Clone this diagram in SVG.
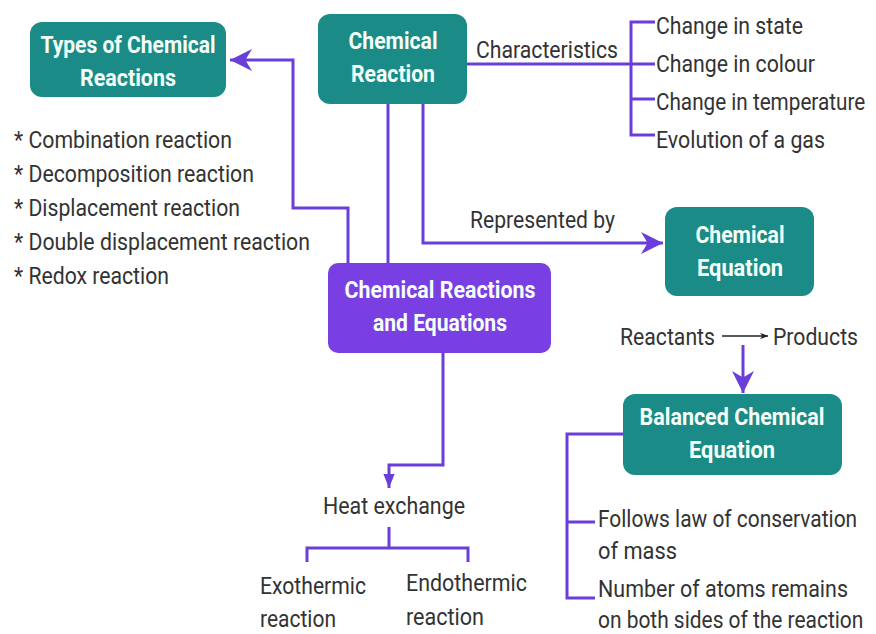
<svg xmlns="http://www.w3.org/2000/svg" width="876" height="634" viewBox="0 0 876 634">
<defs>
<style>
.teal{fill:#1a8b86}
.purp{fill:#7a3fe3}
.bt{font-family:Roboto,"Liberation Sans",sans-serif;font-weight:bold;font-size:24px;fill:#f4fff9;text-anchor:middle}
.t{font-family:Roboto,"Liberation Sans",sans-serif;font-size:23px;fill:#333}
.ln{fill:none;stroke:#6a3ed8;stroke-width:3}
.thin{fill:none;stroke:#222;stroke-width:1.5}
</style>
<marker id="big" viewBox="0 0 10 10" refX="10" refY="5" markerWidth="22" markerHeight="22" orient="auto" markerUnits="userSpaceOnUse">
<path d="M0,0 L10,5 L0,10 L3,5 Z" fill="#6a3ed8"/>
</marker>
<marker id="small" viewBox="0 0 10 10" refX="10" refY="5" markerWidth="14" markerHeight="14" orient="auto" markerUnits="userSpaceOnUse">
<path d="M0,1 L10,5 L0,9 Z" fill="#6a3ed8"/>
</marker>
<marker id="blk" viewBox="0 0 10 10" refX="10" refY="5" markerWidth="8" markerHeight="8" orient="auto" markerUnits="userSpaceOnUse">
<path d="M0,1 L10,5 L0,9 L3,5 Z" fill="#222"/>
</marker>
</defs>
<rect width="876" height="634" fill="#ffffff"/>

<g id="connectors">
<polyline class="ln" points="348,264 348,208 293,208 293,60 230,60" marker-end="url(#big)"/>
<line class="ln" x1="388" y1="104" x2="388" y2="264"/>
<polyline class="ln" points="423,104 423,243 663,243" marker-end="url(#big)"/>
<line class="ln" x1="467" y1="64" x2="631" y2="64"/>
<polyline class="ln" points="655,22 631,22 631,135 655,135"/>
<line class="ln" x1="631" y1="64" x2="655" y2="64"/>
<line class="ln" x1="631" y1="99" x2="655" y2="99"/>
<polyline class="ln" points="443,353 443,465 389,465 389,488" marker-end="url(#small)"/>
<polyline class="ln" points="389,527 389,548"/>
<polyline class="ln" points="307,562 307,548 468,548 468,562"/>
<line class="ln" x1="743" y1="345" x2="743" y2="393" marker-end="url(#big)"/>
<line class="thin" x1="722" y1="336" x2="768" y2="336" marker-end="url(#blk)"/>
<polyline class="ln" points="623,434 567,434 567,598 595,598"/>
<line class="ln" x1="567" y1="522" x2="595" y2="522"/>
</g>

<g id="types">
<rect class="teal" x="30" y="22" width="196" height="75" rx="12"/>
<text class="bt" x="128" y="53" textLength="175" lengthAdjust="spacingAndGlyphs">Types of Chemical</text>
<text class="bt" x="128" y="86" textLength="96" lengthAdjust="spacingAndGlyphs">Reactions</text>
</g>

<g id="types-list">
<text class="t" x="14" y="148" textLength="218" lengthAdjust="spacingAndGlyphs">* Combination reaction</text>
<text class="t" x="14" y="182" textLength="240" lengthAdjust="spacingAndGlyphs">* Decomposition reaction</text>
<text class="t" x="14" y="216" textLength="226" lengthAdjust="spacingAndGlyphs">* Displacement reaction</text>
<text class="t" x="14" y="250" textLength="296" lengthAdjust="spacingAndGlyphs">* Double displacement reaction</text>
<text class="t" x="14" y="284" textLength="155" lengthAdjust="spacingAndGlyphs">* Redox reaction</text>
</g>

<g id="chemical-reaction">
<rect class="teal" x="318" y="14" width="149" height="90" rx="12"/>
<text class="bt" x="393" y="49" textLength="89" lengthAdjust="spacingAndGlyphs">Chemical</text>
<text class="bt" x="393" y="82" textLength="84" lengthAdjust="spacingAndGlyphs">Reaction</text>
</g>

<g id="characteristics">
<text class="t" x="476" y="58" textLength="142" lengthAdjust="spacingAndGlyphs">Characteristics</text>
<text class="t" x="656" y="34" textLength="147" lengthAdjust="spacingAndGlyphs">Change in state</text>
<text class="t" x="656" y="72" textLength="159" lengthAdjust="spacingAndGlyphs">Change in colour</text>
<text class="t" transform="translate(656,110) scale(0.9,1)">Change in temperature</text>
<text class="t" x="656" y="148" textLength="169" lengthAdjust="spacingAndGlyphs">Evolution of a gas</text>
</g>

<g id="represented">
<text class="t" x="470" y="228" textLength="145" lengthAdjust="spacingAndGlyphs">Represented by</text>
</g>

<g id="chemical-equation">
<rect class="teal" x="665" y="207" width="149" height="89" rx="12"/>
<text class="bt" x="740" y="243" textLength="89" lengthAdjust="spacingAndGlyphs">Chemical</text>
<text class="bt" x="740" y="276" textLength="86" lengthAdjust="spacingAndGlyphs">Equation</text>
</g>

<g id="main">
<rect class="purp" x="328" y="263" width="223" height="90" rx="10"/>
<text class="bt" x="440" y="298" textLength="191" lengthAdjust="spacingAndGlyphs">Chemical Reactions</text>
<text class="bt" x="440" y="331" textLength="134" lengthAdjust="spacingAndGlyphs">and Equations</text>
</g>

<g id="reactants">
<text class="t" x="620" y="345" textLength="95" lengthAdjust="spacingAndGlyphs">Reactants</text>
<text class="t" x="773" y="345" textLength="85" lengthAdjust="spacingAndGlyphs">Products</text>
</g>

<g id="balanced">
<rect class="teal" x="623" y="394" width="219" height="81" rx="12"/>
<text class="bt" x="732" y="425" textLength="185" lengthAdjust="spacingAndGlyphs">Balanced Chemical</text>
<text class="bt" x="732" y="458" textLength="86" lengthAdjust="spacingAndGlyphs">Equation</text>
</g>

<g id="balanced-notes">
<text class="t" transform="translate(598,527) scale(0.91,1)">Follows law of conservation</text>
<text class="t" x="598" y="559" textLength="79" lengthAdjust="spacingAndGlyphs">of mass</text>
<text class="t" x="598" y="597" textLength="250" lengthAdjust="spacingAndGlyphs">Number of atoms remains</text>
<text class="t" transform="translate(598,628) scale(0.91,1)">on both sides of the reaction</text>
</g>

<g id="heat">
<text class="t" x="323" y="514" textLength="142" lengthAdjust="spacingAndGlyphs">Heat exchange</text>
<text class="t" x="260" y="594" textLength="106" lengthAdjust="spacingAndGlyphs">Exothermic</text>
<text class="t" x="260" y="627" textLength="76" lengthAdjust="spacingAndGlyphs">reaction</text>
<text class="t" x="406" y="591" textLength="121" lengthAdjust="spacingAndGlyphs">Endothermic</text>
<text class="t" x="406" y="625" textLength="78" lengthAdjust="spacingAndGlyphs">reaction</text>
</g>
</svg>
